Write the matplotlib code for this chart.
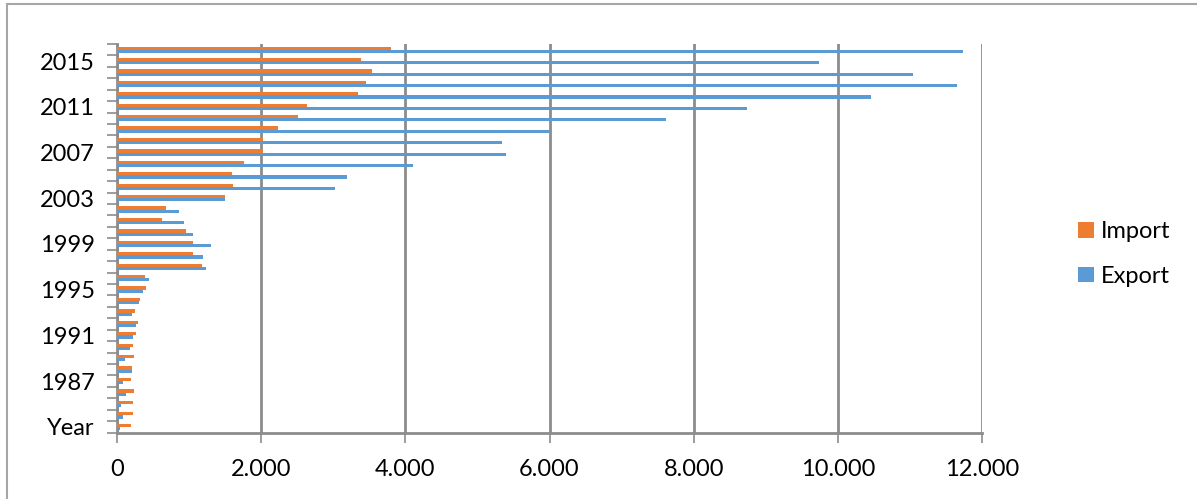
import numpy as np
import matplotlib
matplotlib.use("Agg")
import matplotlib.pyplot as plt
from matplotlib.patches import Rectangle
from matplotlib.ticker import FuncFormatter, FixedLocator

# categories bottom to top, as in the sheet (header row included)
categories = ["Year"] + [str(y) for y in range(1984, 2017)]

import_vals = [195, 227, 218, 232, 191, 214, 241, 227, 268, 295,
               250, 323, 409, 386, 1177, 1055, 1055, 955, 618, 682,
               1500, 1610, 1590, 1760, 2020, 2020, 2230, 2510, 2640,
               3340, 3450, 3540, 3380, 3800]
export_vals = [36, 82, 55, 118, 77, 214, 105, 177, 227, 259,
               205, 300, 355, 441, 1236, 1191, 1300, 1059, 936, 864,
               1500, 3020, 3190, 4101, 5397, 5339, 6005, 7611, 8741,
               10459, 11653, 11040, 9733, 11733]

label_every = 4

orange = "#ED7D31"
blue = "#5B9BD5"
grid_col = "#8C8C8C"

plt.rcParams['font.family'] = ['Lato', 'DejaVu Sans']

fig = plt.figure(figsize=(11.97, 4.99), dpi=100)
ax = fig.add_axes([117/1197, 1 - 432.5/499, (982 - 117)/1197, (432.5 - 44)/499])

y = np.arange(len(categories))
h = 0.28
ax.barh(y + 0.14, import_vals, height=h, color=orange, label="Import", zorder=3)
ax.barh(y - 0.14, export_vals, height=h, color=blue, label="Export", zorder=3)

ax.set_xlim(0, 12000)
ax.set_ylim(-0.5, len(categories) - 0.5)

ax.set_xticks(np.arange(0, 12001, 2000))
ax.xaxis.set_major_formatter(FuncFormatter(lambda v, p: f"{int(v):,}".replace(",", ".")))
ax.grid(axis="x", color=grid_col, linewidth=2, zorder=0)

ax.set_yticks(y[::label_every])
ax.set_yticklabels(categories[::label_every])
ax.yaxis.set_minor_locator(FixedLocator(np.arange(-0.5, len(categories), 1)))
ax.tick_params(axis="y", which="major", length=0, labelsize=17, pad=16)
ax.tick_params(axis="y", which="minor", length=7, width=1.2, color=grid_col)
ax.tick_params(axis="x", length=7, width=1.2, color=grid_col, labelsize=17, pad=12)

for s in ["top", "right"]:
    ax.spines[s].set_visible(False)
for s in ["left", "bottom"]:
    ax.spines[s].set_color(grid_col)
    ax.spines[s].set_linewidth(2)

# outer chart frame (cut off at right and bottom)
fig.patches.append(Rectangle((7/1197, -0.1), 1.2, 1.1 - 4/499, transform=fig.transFigure,
                             fill=False, edgecolor="#A6A6A6", linewidth=1.5))

fig.legend(loc="center left", bbox_to_anchor=(1057/1197, 1 - 254/499), frameon=False,
           fontsize=17, handlelength=0.65, handleheight=0.65, handletextpad=0.3,
           labelspacing=1.0)

fig.savefig("out.png", dpi=100)
